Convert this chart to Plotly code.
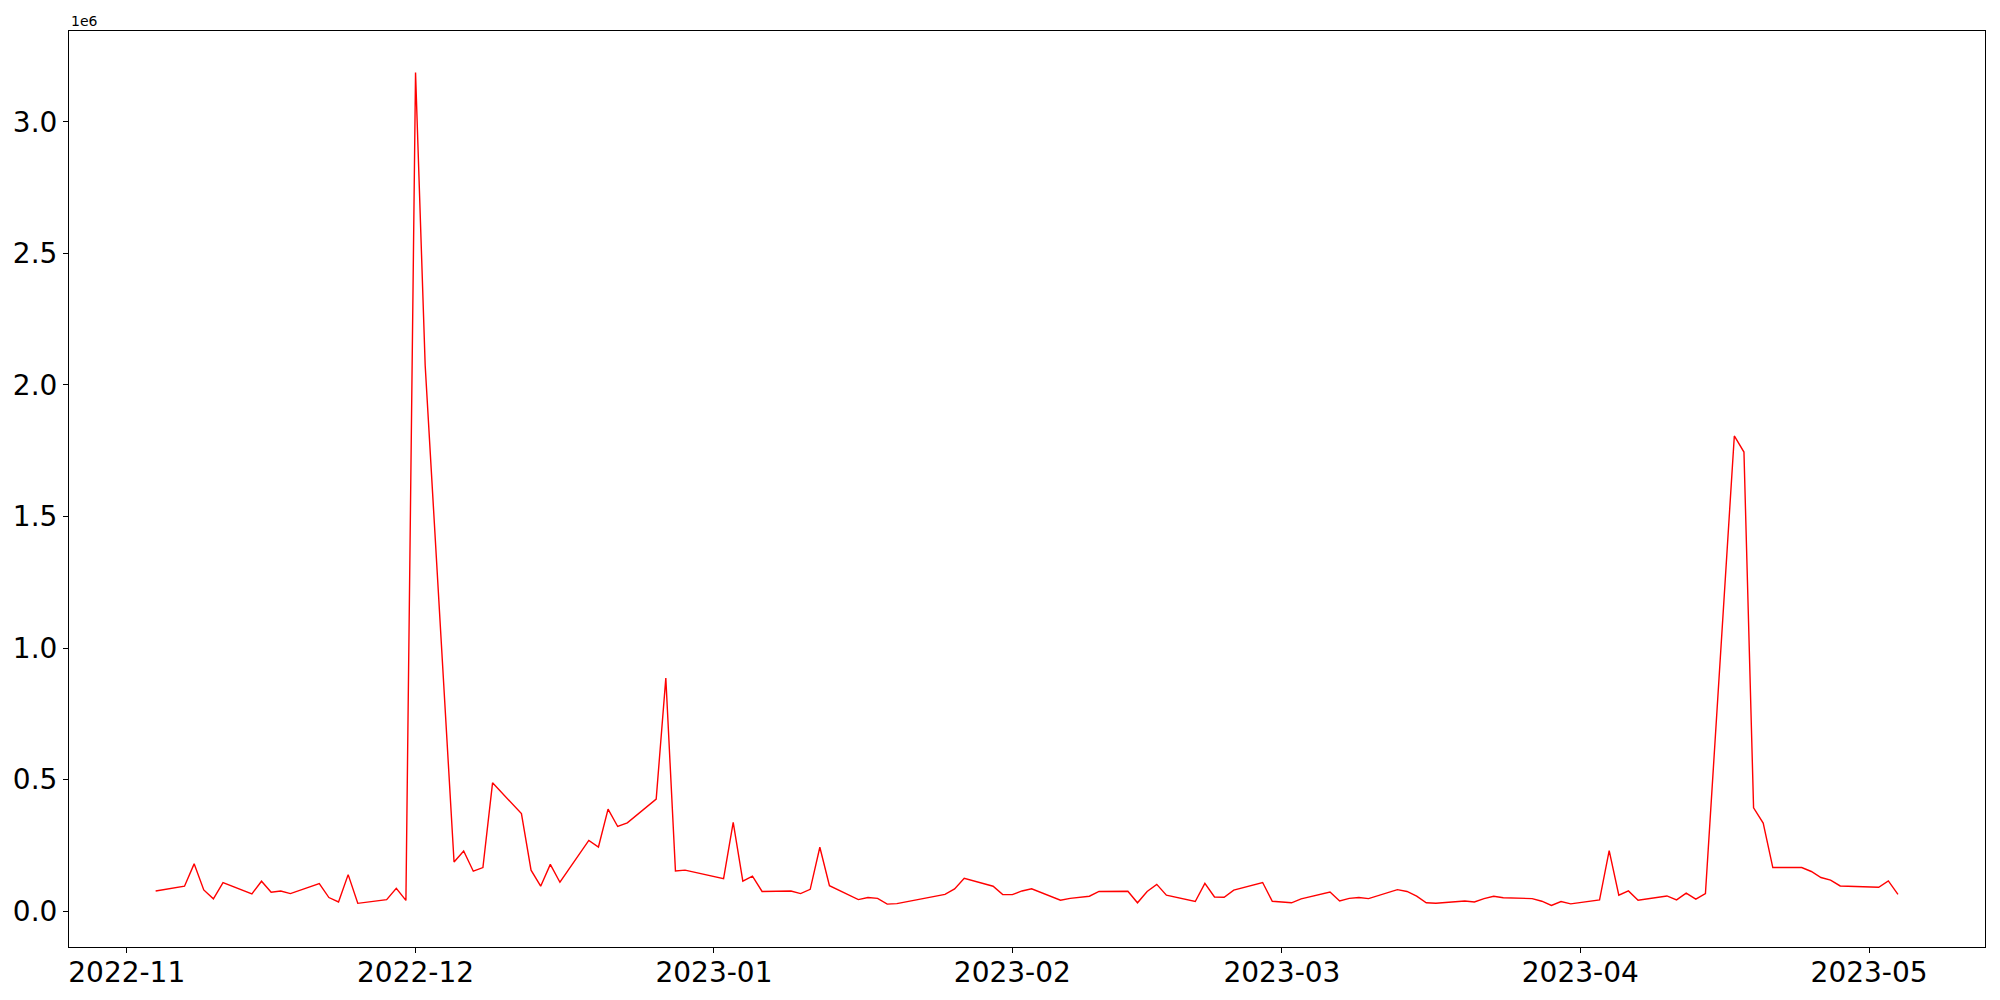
import plotly.graph_objects as go

dates = [
    "2022-11-04", "2022-11-07", "2022-11-08", "2022-11-09", "2022-11-10", "2022-11-11",
    "2022-11-14", "2022-11-15", "2022-11-16", "2022-11-17", "2022-11-18",
    "2022-11-21", "2022-11-22", "2022-11-23", "2022-11-24", "2022-11-25",
    "2022-11-28", "2022-11-29", "2022-11-30", "2022-12-01", "2022-12-02",
    "2022-12-05", "2022-12-06", "2022-12-07", "2022-12-08", "2022-12-09",
    "2022-12-12", "2022-12-13", "2022-12-14", "2022-12-15", "2022-12-16",
    "2022-12-19", "2022-12-20", "2022-12-21", "2022-12-22", "2022-12-23",
    "2022-12-26", "2022-12-27", "2022-12-28", "2022-12-29",
    "2023-01-02", "2023-01-03", "2023-01-04", "2023-01-05", "2023-01-06",
    "2023-01-09", "2023-01-10", "2023-01-11", "2023-01-12", "2023-01-13",
    "2023-01-16", "2023-01-17", "2023-01-18", "2023-01-19", "2023-01-20",
    "2023-01-25", "2023-01-26", "2023-01-27",
    "2023-01-30", "2023-01-31", "2023-02-01", "2023-02-02", "2023-02-03",
    "2023-02-06", "2023-02-07", "2023-02-08", "2023-02-09", "2023-02-10",
    "2023-02-13", "2023-02-14", "2023-02-15", "2023-02-16", "2023-02-17",
    "2023-02-20", "2023-02-21", "2023-02-22", "2023-02-23", "2023-02-24",
    "2023-02-27", "2023-02-28", "2023-03-02", "2023-03-03",
    "2023-03-06", "2023-03-07", "2023-03-08", "2023-03-09", "2023-03-10",
    "2023-03-13", "2023-03-14", "2023-03-15", "2023-03-16", "2023-03-17",
    "2023-03-20", "2023-03-21", "2023-03-22", "2023-03-23", "2023-03-24",
    "2023-03-27", "2023-03-28", "2023-03-29", "2023-03-30", "2023-03-31",
    "2023-04-03", "2023-04-04", "2023-04-05", "2023-04-06", "2023-04-07",
    "2023-04-10", "2023-04-11", "2023-04-12", "2023-04-13", "2023-04-14",
    "2023-04-17", "2023-04-18", "2023-04-19", "2023-04-20", "2023-04-21",
    "2023-04-24", "2023-04-25", "2023-04-26", "2023-04-27", "2023-04-28",
    "2023-05-02", "2023-05-03", "2023-05-04",
]

values = [
    77000, 95000, 180000, 81000, 47000, 109000,
    66000, 114000, 72000, 77000, 67000,
    105000, 52000, 35000, 139000, 30000,
    44000, 87000, 41000, 3187000, 2075000,
    187000, 229000, 152000, 166000, 488000,
    371000, 156000, 95000, 178000, 110000,
    269000, 244000, 388000, 322000, 336000,
    426000, 886000, 153000, 156000,
    124000, 338000, 114000, 133000, 75000,
    77000, 67000, 83000, 243000, 97000,
    44000, 52000, 49000, 27000, 29000,
    64000, 85000, 125000,
    95000, 63000, 63000, 77000, 85000,
    42000, 49000, 52000, 57000, 75000,
    76000, 32000, 75000, 102000, 61000,
    37000, 106000, 54000, 53000, 80000,
    109000, 38000, 32000, 47000,
    73000, 39000, 49000, 52000, 48000,
    82000, 75000, 57000, 32000, 30000,
    39000, 35000, 48000, 57000, 51000,
    48000, 38000, 22000, 37000, 28000,
    43000, 230000, 61000, 77000, 42000,
    58000, 43000, 69000, 46000, 67000,
    1806000, 1745000, 393000, 335000, 166000,
    166000, 151000, 128000, 118000, 96000,
    91000, 115000, 64000,
]

y_tick_vals = [0, 500000, 1000000, 1500000, 2000000, 2500000, 3000000]
y_tick_text = ["0.0", "0.5", "1.0", "1.5", "2.0", "2.5", "3.0"]
x_tick_vals = ["2022-11-01", "2022-12-01", "2023-01-01", "2023-02-01",
               "2023-03-01", "2023-04-01", "2023-05-01"]
x_tick_text = ["2022-11", "2022-12", "2023-01", "2023-02", "2023-03", "2023-04", "2023-05"]

fig = go.Figure()
fig.add_trace(go.Scatter(x=dates, y=values, mode="lines",
                         line=dict(color="red", width=1.4), showlegend=False))

# margins compensate the page's 8px body offset
fig.update_layout(
    width=2000, height=1000,
    margin=dict(l=61, r=23, t=23, b=61, autoexpand=False),
    paper_bgcolor="white", plot_bgcolor="white",
    font=dict(family="DejaVu Sans", size=28, color="black"),
)
fig.update_xaxes(
    type="date", automargin=False,
    range=["2022-10-26 00:00", "2023-05-13 01:00"],
    tickvals=x_tick_vals, ticktext=x_tick_text,
    showgrid=False, zeroline=False,
    showline=True, linecolor="black", linewidth=1.1, mirror=True,
    ticks="outside", ticklen=5, tickwidth=1.1, tickcolor="black",
    ticklabelstandoff=-5,
)
fig.update_yaxes(
    automargin=False,
    range=[-136000, 3345000],
    tickvals=y_tick_vals, ticktext=y_tick_text,
    showgrid=False, zeroline=False,
    showline=True, linecolor="black", linewidth=1.1, mirror=True,
    ticks="outside", ticklen=5, tickwidth=1.1, tickcolor="black",
)
fig.add_annotation(text="1e6", xref="paper", yref="paper", x=0, y=1,
                   xanchor="left", yanchor="bottom", showarrow=False,
                   font=dict(family="DejaVu Sans", size=14, color="black"))

fig.write_html("out.html")
